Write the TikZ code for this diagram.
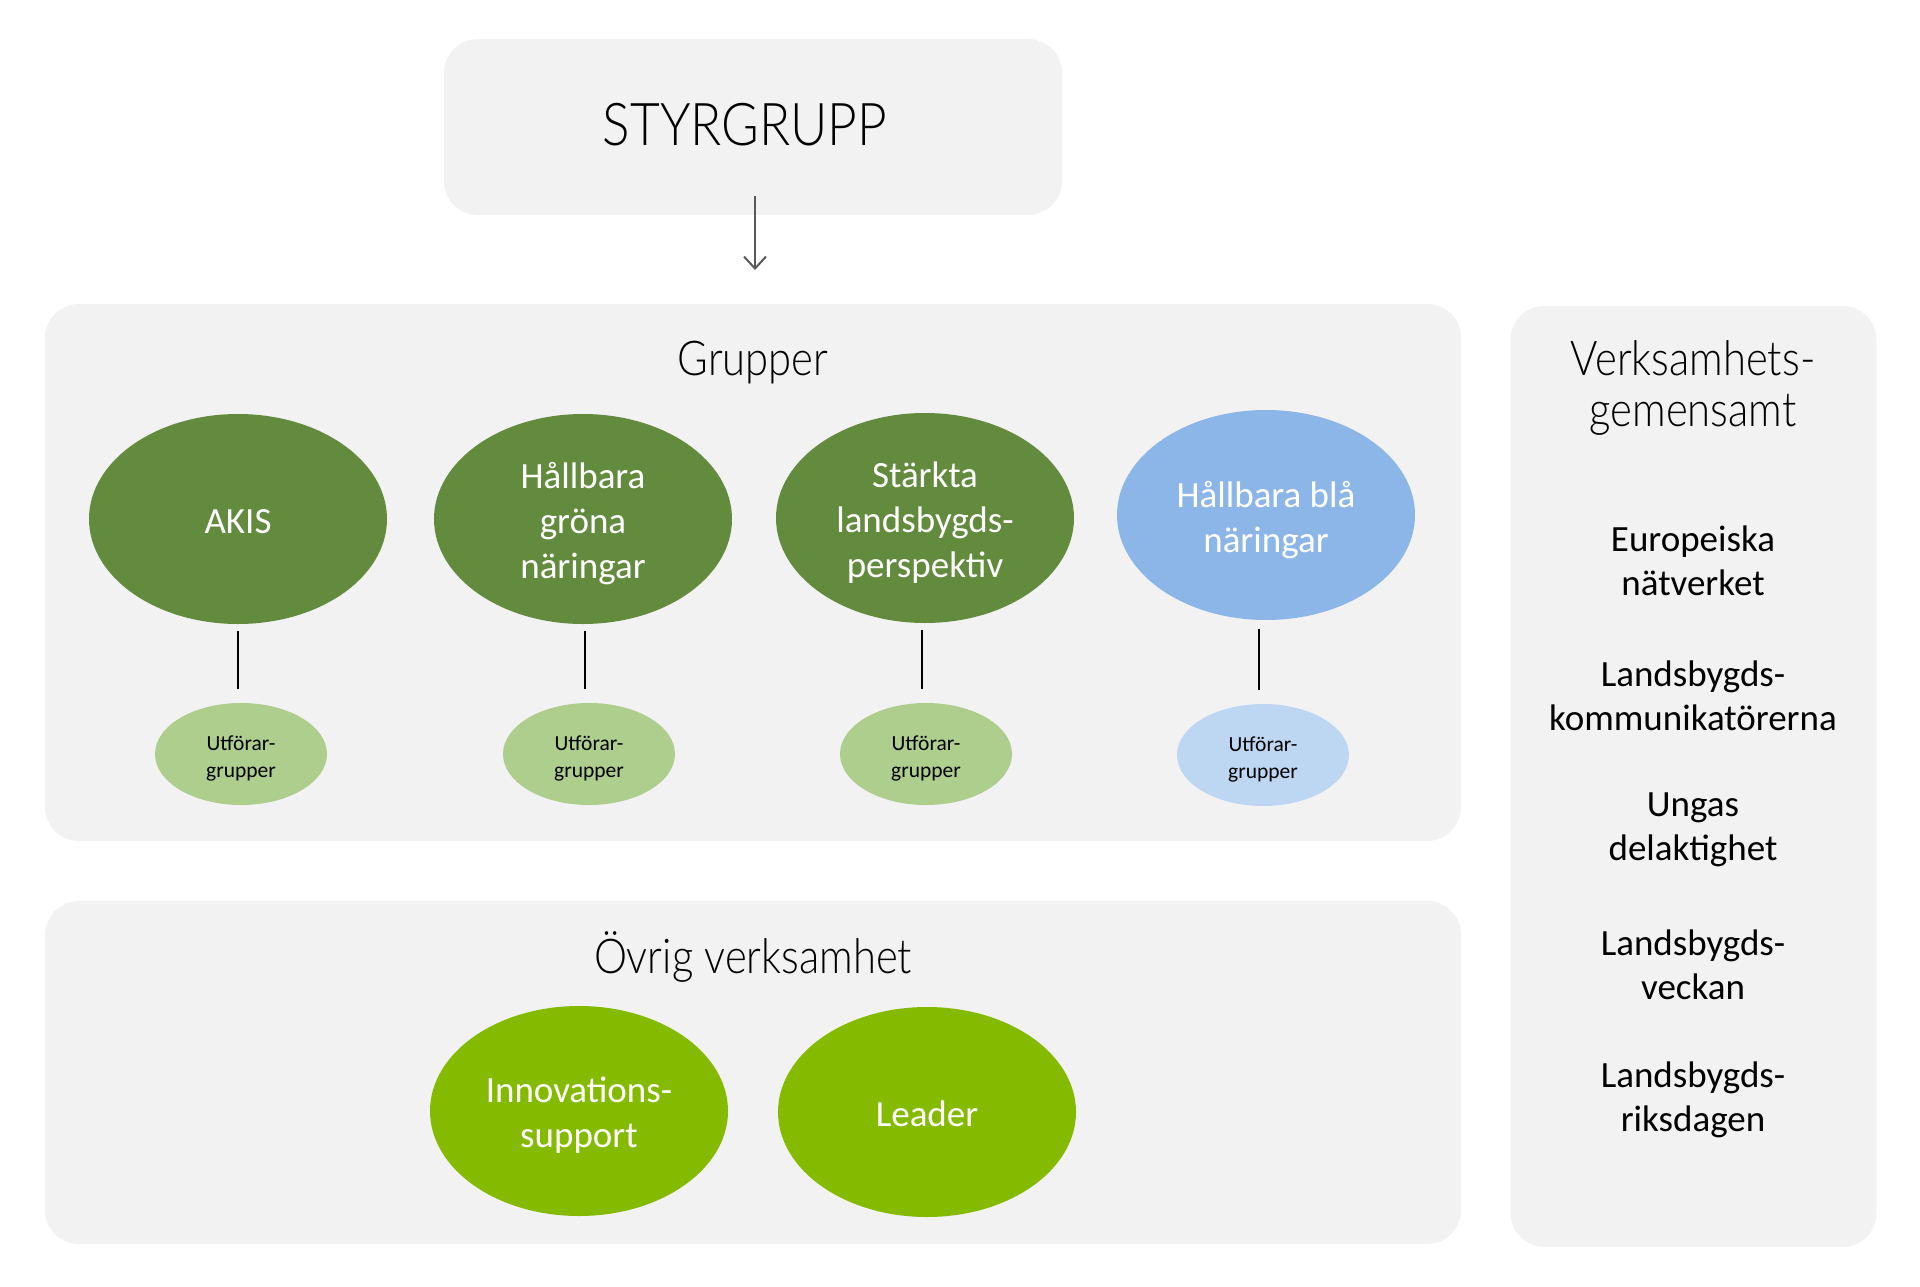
\documentclass[tikz,border=0pt]{standalone}
\usepackage{fontspec}
\setmainfont{Carlito}
\newfontfamily\lightfont{Lato Light}[FakeStretch=0.87]
\usetikzlibrary{shapes.geometric,arrows.meta}
\definecolor{panelgray}{HTML}{F2F2F2}
\definecolor{darkgreen}{HTML}{638B3E}
\definecolor{lightgreen}{HTML}{AECE8E}
\definecolor{midblue}{HTML}{8DB6E8}
\definecolor{paleblue}{HTML}{BDD7F3}
\definecolor{brightgreen}{HTML}{84BB00}
\definecolor{arrowgray}{HTML}{595959}
\tikzset{
  panel/.style={fill=panelgray, draw=none, rounded corners=34pt, inner sep=0pt},
  bubble/.style={ellipse, draw=none, inner sep=0pt, minimum width=298pt, minimum height=210pt},
  btext/.style={text=white, align=center, inner sep=0pt, font=\fontsize{37}{45}\selectfont},
  subbubble/.style={ellipse, draw=none, inner sep=0pt, minimum width=172pt, minimum height=102pt},
  stext/.style={text=black, align=center, inner sep=0pt, font=\fontsize{21.5}{27}\selectfont},
  title/.style={text=black, align=center, inner sep=0pt},
  item/.style={text=black, align=center, inner sep=0pt, font=\fontsize{37}{44}\selectfont},
  link/.style={draw=black, line width=1.8pt, shorten >=14pt},
}
\begin{document}
\begin{tikzpicture}[x=1pt,y=-1pt]
\useasboundingbox (0,0) rectangle (1920,1287);
\fill[white] (0,0) rectangle (1920,1287);

% panels
\node[panel, minimum width=618pt, minimum height=176pt] (styr) at (753,127) {};
\node[panel, minimum width=1416pt, minimum height=537pt] (grp) at (753,572.5) {};
\node[panel, minimum width=1416pt, minimum height=343pt] (ovr) at (753,1072.5) {};
\node[panel, minimum width=366pt, minimum height=941pt] (verk) at (1693.5,776.5) {};

% titles
\node[title, font=\lightfont\fontsize{59}{66}\selectfont] (styrt) at (745,125) {STYRGRUPP};
\node[title, font=\lightfont\fontsize{48}{56}\selectfont] (grpt) at (753,363) {Grupper};
\node[title, font=\lightfont\fontsize{48}{56}\selectfont] (ovrt) at (753,957) {Övrig verksamhet};
\node[title, font=\lightfont\fontsize{48}{51}\selectfont] (verkt) at (1693,388) {Verksamhets-\\gemensamt};

% arrow
\coordinate (arS) at (755,196);
\coordinate (arE) at (755,270);
\draw[arrowgray, line width=2pt, -{Straight Barb[length=12pt,width=22pt,line width=2pt]}] (arS) -- (arE);

% group bubbles
\node[bubble, fill=darkgreen] (akis) at (238,519) {};
\node[bubble, fill=darkgreen] (hgn) at (583,519) {};
\node[bubble, fill=darkgreen] (slp) at (925,518) {};
\node[bubble, fill=midblue] (hbn) at (1266,515) {};
\node[btext] (akisL) at ([yshift=-3pt]akis.center) {AKIS};
\node[btext] (hgnL) at ([yshift=-5pt]hgn.center) {Hållbara\\gröna\\näringar};
\node[btext] (slpL) at ([yshift=-5pt]slp.center) {Stärkta\\landsbygds-\\perspektiv};
\node[btext] (hbnL) at ([yshift=-5pt]hbn.center) {Hållbara blå\\näringar};

% sub bubbles
\node[subbubble, fill=lightgreen] (akiss) at (241,754) {};
\node[subbubble, fill=lightgreen] (hgns) at (589,754) {};
\node[subbubble, fill=lightgreen] (slps) at (926,754) {};
\node[subbubble, fill=paleblue] (hbns) at (1263,755) {};
\node[stext] (akissL) at ([yshift=-4pt]akiss.center) {Utförar-\\grupper};
\node[stext] (hgnsL) at ([yshift=-4pt]hgns.center) {Utförar-\\grupper};
\node[stext] (slpsL) at ([yshift=-4pt]slps.center) {Utförar-\\grupper};
\node[stext] (hbnsL) at ([yshift=-4pt]hbns.center) {Utförar-\\grupper};

% links
\coordinate (akisT) at ([yshift=-7pt]akis.south);
\coordinate (hgnT) at ([xshift=2pt,yshift=-7pt]hgn.south);
\coordinate (slpT) at ([xshift=-3pt,yshift=-7pt]slp.south);
\coordinate (hbnT) at ([xshift=-7pt,yshift=-9pt]hbn.south);
\draw[link] (akisT) -- (akisT |- akiss.north);
\draw[link] (hgnT) -- (hgnT |- hgns.north);
\draw[link] (slpT) -- (slpT |- slps.north);
\draw[link] (hbnT) -- (hbnT |- hbns.north);

% other activities
\node[bubble, fill=brightgreen] (innov) at (579,1111) {};
\node[bubble, fill=brightgreen] (leader) at (927,1112) {};
\node[btext] (innovL) at ([yshift=-4pt]innov.center) {Innovations-\\support};
\node[btext] (leaderL) at ([yshift=-2pt]leader.center) {Leader};

% right column items
\node[item] (eu) at (1693,561) {Europeiska\\nätverket};
\node[item] (kom) at (1693,696) {Landsbygds-\\kommunikatörerna};
\node[item] (ung) at (1693,830) {Ungas\\delaktighet};
\node[item] (vec) at (1693,965) {Landsbygds-\\veckan};
\node[item] (rik) at (1693,1100) {Landsbygds-\\riksdagen};
\end{tikzpicture}
\end{document}
